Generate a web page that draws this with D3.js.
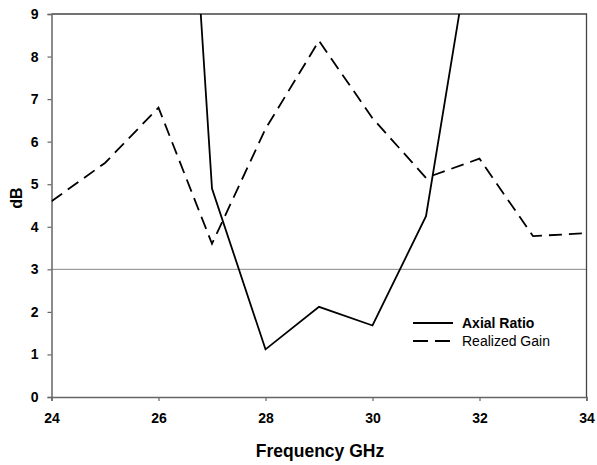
<!DOCTYPE html>
<html>
<head>
<meta charset="UTF-8" />
<script src="https://d3js.org/d3.v7.min.js"></script>
<style>
  body { margin: 0; background: #fff; }
  svg { display: block; font-family: Arial, "Liberation Sans", sans-serif; }
  .tick text { font-size: 14px; font-weight: bold; fill: #000; }
</style>
</head>
<body>
<svg id="chart" width="597" height="465"></svg>
<script>
  // frequencies (GHz)
  const freq = [24, 25, 26, 27, 28, 29, 30, 31, 32, 33, 34];
  // realized gain, dB
  const gain = [4.6, 5.5, 6.8, 3.6, 6.3, 8.37, 6.55, 5.15, 5.6, 3.78, 3.85];
  // axial ratio, dB (only 26..32 drawn, the rest is far off the top)
  const arFreq = [26, 27, 28, 29, 30, 31, 32];
  const axial = [24.4, 4.9, 1.12, 2.12, 1.68, 4.25, 11.9];
  const xTicks = [24, 26, 28, 30, 32, 34];
  const yTicks = [0, 1, 2, 3, 4, 5, 6, 7, 8, 9];

  const svg = d3.select("#chart");
  const mLeft = 51.5, mRight = 586.5, mTop = 14, mBottom = 397;

  const x = d3.scaleLinear().domain([24, 34]).range([mLeft, mRight]);
  const y = d3.scaleLinear().domain([0, 9]).range([mBottom, mTop]);

  svg.append("defs").append("clipPath").attr("id", "clip")
    .append("rect").attr("x", mLeft).attr("y", mTop)
    .attr("width", mRight - mLeft).attr("height", mBottom - mTop);

  // reference line at 3 dB
  svg.append("line")
    .attr("x1", mLeft).attr("x2", mRight)
    .attr("y1", y(3)).attr("y2", y(3))
    .attr("stroke", "#888").attr("stroke-width", 1);

  // frame top + right
  svg.append("path")
    .attr("d", `M${mLeft},${mTop}H${mRight}V${mBottom}`)
    .attr("fill", "none").attr("stroke", "#444").attr("stroke-width", 1.3);

  // axes
  const xAxis = svg.append("g")
    .attr("transform", `translate(0,${mBottom})`)
    .call(d3.axisBottom(x).tickValues(xTicks).tickSize(4).tickPadding(12));
  const yAxis = svg.append("g")
    .attr("transform", `translate(${mLeft},0)`)
    .call(d3.axisLeft(y).tickValues(yTicks).tickSize(4).tickPadding(9));
  [xAxis, yAxis].forEach(a => {
    a.select(".domain").attr("stroke", "#666").attr("stroke-width", 1.5);
    a.selectAll(".tick line").attr("stroke", "#666").attr("stroke-width", 1.2);
  });

  const line = d3.line().x(d => x(d[0])).y(d => y(d[1]));
  const plot = svg.append("g").attr("clip-path", "url(#clip)");

  plot.append("path")
    .datum(freq.map((f, i) => [f, gain[i]]))
    .attr("d", line)
    .attr("fill", "none").attr("stroke", "#000")
    .attr("stroke-width", 1.8).attr("stroke-dasharray", "13,7");

  plot.append("path")
    .datum(arFreq.map((f, i) => [f, axial[i]]))
    .attr("d", line)
    .attr("fill", "none").attr("stroke", "#000")
    .attr("stroke-width", 1.8);

  // axis titles
  svg.append("text")
    .attr("x", (mLeft + mRight) / 2 + 1).attr("y", 457)
    .attr("text-anchor", "middle")
    .attr("font-size", 17.5).attr("font-weight", "bold")
    .text("Frequency GHz");
  svg.append("text")
    .attr("transform", `translate(22,198) rotate(-90)`)
    .attr("text-anchor", "middle")
    .attr("font-size", 16).attr("font-weight", "bold")
    .text("dB");

  // legend
  const legend = [
    { name: "Axial Ratio", dash: null, bold: true },
    { name: "Realized Gain", dash: "15,7", bold: false }
  ];
  const lg = svg.append("g").attr("transform", "translate(413,323)");
  legend.forEach((d, i) => {
    lg.append("line")
      .attr("x1", 0).attr("x2", 40)
      .attr("y1", i * 18).attr("y2", i * 18)
      .attr("stroke", "#000").attr("stroke-width", 1.8)
      .attr("stroke-dasharray", d.dash);
    lg.append("text")
      .attr("x", 49).attr("y", i * 17.5 + 5)
      .attr("font-size", 14)
      .attr("font-weight", d.bold ? "bold" : "normal")
      .text(d.name);
  });
</script>
</body>
</html>
